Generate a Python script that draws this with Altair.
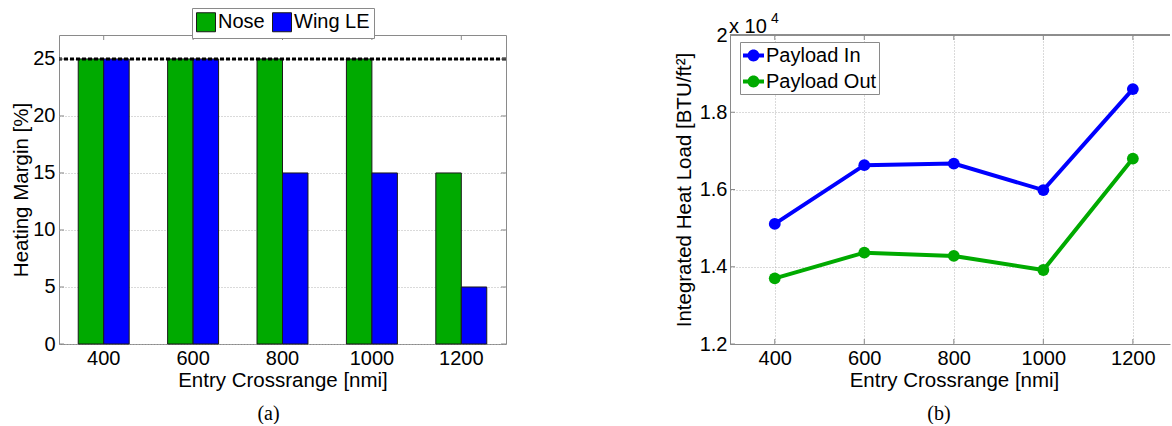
import altair as alt
import pandas as pd

# ---- data -------------------------------------------------------------
crossrange = [400, 600, 800, 1000, 1200]

# (a) heating margin per component
components = ["Nose", "Wing LE"]
nose_margin = [25, 25, 25, 25, 15]
wing_le_margin = [25, 25, 15, 15, 5]
margin_limit = [25]
margin_ticks = [0, 5, 10, 15, 20, 25]

# (b) integrated heat load [BTU/ft^2]
cases = ["Payload In", "Payload Out"]
payload_in = [15110, 16630, 16670, 15985, 18600]
payload_out = [13700, 14365, 14280, 13915, 16800]
load_ticks = [12000, 14000, 16000, 18000, 20000]

# ---- style ------------------------------------------------------------
FONT = "Liberation Sans"
SERIF = "Liberation Serif"
GREEN = "#00aa00"
BLUE = "#0000ff"
AXIS_GRAY = "#8a8a8a"
GRID_GRAY = "#b4b4b4"

A_W, A_H = 447, 309
B_W, B_H = 440, 309

bars = pd.DataFrame({
    "crossrange": crossrange * 2,
    "component": [components[0]] * 5 + [components[1]] * 5,
    "margin": nose_margin + wing_le_margin,
})
limit_df = pd.DataFrame({"margin": margin_limit})
xtick_df = pd.DataFrame({"crossrange": crossrange})
ytick_a = pd.DataFrame({"margin": margin_ticks})

loads = pd.DataFrame({
    "crossrange": crossrange * 2,
    "case": [cases[0]] * 5 + [cases[1]] * 5,
    "load": payload_in + payload_out,
})
ytick_b = pd.DataFrame({"load": load_ticks})

# ---- (a) grouped bars ---------------------------------------------------
xa = alt.X(
    "crossrange:O",
    scale=alt.Scale(paddingInner=0.43, paddingOuter=0.215),
    axis=alt.Axis(title="Entry Crossrange [nmi]", labelAngle=0, tickSize=0,
                  domain=False, labelPadding=4, titlePadding=2, grid=False),
)
ya = alt.Y(
    "margin:Q",
    scale=alt.Scale(domain=[0, 27.1], nice=False, zero=True),
    axis=alt.Axis(title="Heating Margin [%]", values=margin_ticks, tickSize=0,
                  domain=False, grid=True, labelPadding=4, titlePadding=1),
)

bar_layer = alt.Chart(bars).mark_bar(stroke="#1a1a1a", strokeWidth=1).encode(
    x=xa,
    xOffset=alt.XOffset("component:N", sort=components,
                        scale=alt.Scale(paddingInner=0, paddingOuter=0)),
    y=ya,
    color=alt.Color(
        "component:N",
        scale=alt.Scale(domain=components, range=[GREEN, BLUE]),
        legend=alt.Legend(
            title=None, orient="none", legendX=133, legendY=-27,
            direction="horizontal", symbolType="square", symbolSize=361,
            symbolStrokeColor="#1a1a1a", symbolStrokeWidth=1,
            strokeColor=AXIS_GRAY, fillColor="white", padding=4,
            columnPadding=5, labelOffset=2,
        ),
    ),
)

limit_layer = alt.Chart(limit_df).mark_rule(
    color="black", strokeWidth=3, strokeDash=[4, 2]
).encode(y="margin:Q")

top_ticks_a = alt.Chart(xtick_df).mark_rule(color=AXIS_GRAY).encode(
    x="crossrange:O", y=alt.value(0), y2=alt.value(5)
)
left_ticks_a = alt.Chart(ytick_a).mark_rule(color=AXIS_GRAY).encode(
    y="margin:Q", x=alt.value(0), x2=alt.value(5)
)
right_ticks_a = alt.Chart(ytick_a).mark_rule(color=AXIS_GRAY).encode(
    y="margin:Q", x=alt.value(A_W - 5), x2=alt.value(A_W)
)

panel_a = alt.layer(
    bar_layer, limit_layer, top_ticks_a, left_ticks_a, right_ticks_a
).properties(
    width=A_W, height=A_H,
    view=alt.ViewBackground(stroke=AXIS_GRAY),
    title=alt.TitleParams("(a)", orient="bottom", dx=-14, offset=13),
)

# ---- (b) heat load lines ------------------------------------------------
xb = alt.X(
    "crossrange:Q",
    scale=alt.Scale(domain=[300, 1283], nice=False, zero=False),
    axis=alt.Axis(title="Entry Crossrange [nmi]", values=crossrange, format="d",
                  tickSize=0, domain=True, grid=True, labelPadding=4,
                  titlePadding=2, titleX=224),
)
yb = alt.Y(
    "load:Q",
    scale=alt.Scale(domain=[12000, 20000], nice=False, zero=False),
    axis=alt.Axis(title="Integrated Heat Load [BTU/ft²]", values=load_ticks,
                  labelExpr="format(datum.value / 10000, '~g')", tickSize=0,
                  domain=True, grid=True, labelPadding=3, titlePadding=5),
)
case_colors = [BLUE, GREEN]

# legend glyph: a short thick line with a round marker in the middle
line_marker = ("M-1,-0.19L1,-0.19L1,0.19L-1,0.19Z"
               "M-0.57,0A0.57,0.57 0 1,1 0.57,0A0.57,0.57 0 1,1 -0.57,0Z")

lines = alt.Chart(loads).mark_line(strokeWidth=4).encode(
    x=xb, y=yb,
    stroke=alt.Stroke("case:N", scale=alt.Scale(domain=cases, range=case_colors),
                      legend=None),
)
markers = alt.Chart(loads).mark_point(
    filled=True, size=140, opacity=1, shape="circle"
).encode(
    x=xb, y=yb,
    color=alt.Color(
        "case:N", scale=alt.Scale(domain=cases, range=case_colors),
        legend=alt.Legend(
            title=None, orient="none", legendX=10, legendY=7,
            symbolType=line_marker, symbolSize=441, symbolOpacity=1,
            strokeColor=AXIS_GRAY, fillColor="white", padding=2,
            rowPadding=4, labelOffset=1,
        ),
    ),
)

top_border_b = alt.Chart(xtick_df).mark_rule(color=AXIS_GRAY).encode(
    x=alt.value(0), x2=alt.value(B_W), y=alt.value(0)
)
top_ticks_b = alt.Chart(xtick_df).mark_rule(color=AXIS_GRAY).encode(
    x="crossrange:Q", y=alt.value(0), y2=alt.value(5)
)
bottom_ticks_b = alt.Chart(xtick_df).mark_rule(color=AXIS_GRAY).encode(
    x="crossrange:Q", y=alt.value(B_H - 5), y2=alt.value(B_H)
)
left_ticks_b = alt.Chart(ytick_b).mark_rule(color=AXIS_GRAY).encode(
    y="load:Q", x=alt.value(0), x2=alt.value(5)
)

# exponent note above the heat-load axis
exp_base = alt.Chart(pd.DataFrame({"t": ["x 10"]})).mark_text(
    align="left", baseline="alphabetic", fontSize=20, font=FONT, color="black"
).encode(x=alt.value(-1), y=alt.value(-2), text="t:N")
exp_power = alt.Chart(pd.DataFrame({"t": ["4"]})).mark_text(
    align="left", baseline="alphabetic", fontSize=14, font=FONT, color="black"
).encode(x=alt.value(41), y=alt.value(-12), text="t:N")

panel_b = alt.layer(
    lines, markers, top_border_b, top_ticks_b, bottom_ticks_b, left_ticks_b,
    exp_base, exp_power,
).properties(
    width=B_W, height=B_H,
    view=alt.ViewBackground(stroke="transparent"),
    title=alt.TitleParams("(b)", orient="bottom", dx=-11, offset=13),
)

chart = (
    alt.hconcat(panel_a, panel_b, spacing=224, bounds="flush")
    .resolve_scale(color="independent")
    .resolve_legend(color="independent")
    .properties(padding={"left": 11, "top": 7, "right": 0, "bottom": 0},
                background="white")
    .configure_view(stroke="transparent")
    .configure_axis(
        labelFont=FONT, titleFont=FONT, labelFontSize=20, titleFontSize=20.5,
        titleFontWeight="normal", labelColor="black", titleColor="black",
        domainColor=AXIS_GRAY, tickColor=AXIS_GRAY,
        gridColor=GRID_GRAY, gridDash=[1, 2], gridOpacity=1,
    )
    .configure_legend(labelFont=FONT, labelFontSize=20, labelColor="black",
                      labelLimit=300)
    .configure_title(font=SERIF, fontSize=20, fontWeight="normal",
                     color="black")
)

chart.save("out.html", embed_options={"renderer": "svg", "actions": False})
